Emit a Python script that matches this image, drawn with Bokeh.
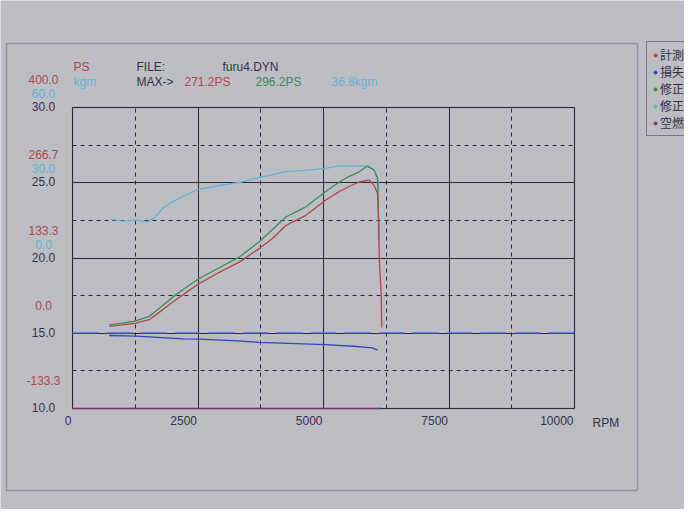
from bokeh.plotting import figure
from bokeh.models import (Range1d, FixedTicker, Grid, ColumnDataSource, LabelSet,
                          Label, Legend, LegendItem, BoxAnnotation)
from bokeh.core.properties import value
from bokeh.embed import file_html
from bokeh.resources import INLINE

# ---------------- data ----------------
rpm_ticks = [0, 2500, 5000, 7500, 10000]
rpm_minor = [1250, 3750, 6250, 8750]
afr_ticks = [10.0, 15.0, 20.0, 25.0, 30.0]
afr_minor = [12.5, 17.5, 22.5, 27.5]
ps_ticks = [400.0, 266.7, 133.3, 0.0, -133.3]
kgm_ticks = [60.0, 30.0, 0.0]

# measured power (PS)
meas_rpm = [730, 1000, 1262, 1528, 1727, 1992, 2260, 2524, 2922, 3321, 3719, 3984,
            4250, 4648, 5046, 5313, 5511, 5711, 5910, 6010, 6076, 6100, 6110, 6150, 6160]
meas_ps = [12, 15, 18, 24, 37, 55, 72, 88, 108, 126, 150, 168,
           191, 209, 236, 251, 260, 268, 271.2, 262, 248, 200, 132, 67, 10]

# corrected power (PS)
corr_rpm = [730, 1000, 1262, 1528, 1727, 1992, 2260, 2524, 2922, 3321, 3719, 4000,
            4250, 4648, 5046, 5313, 5511, 5711, 5876, 6010, 6076, 6090, 6100]
corr_ps = [15, 18, 22, 30, 44, 64, 81, 97, 116, 135, 162, 185,
           206, 224, 251, 268, 278, 286, 296.2, 289, 274, 230, 167]

# corrected torque (kgm)
torq_rpm = [764, 996, 1262, 1494, 1627, 1793, 1992, 2257, 2524, 2988, 3321, 3719,
            4250, 4648, 5046, 5313, 5600, 5711, 5910, 6010, 6076, 6096, 6100]
torq_kgm = [15.5, 14.7, 15.1, 14.4, 16.0, 19.7, 22.4, 25.1, 27.5, 29.1, 30.1, 32.0,
            34.4, 34.9, 35.7, 36.7, 36.8, 36.7, 36.4, 35.1, 32.4, 29.1, 26.4]

# loss power (PS)
loss_rpm = [730, 1262, 2200, 2524, 3190, 3719, 5046, 5600, 5976, 6076]
loss_ps = [-4, -5, -10, -10.5, -13, -16, -20, -23, -26, -30]

# reference line (PS)
ref_rpm = [0, 10000]
ref_ps = [0, 0]

# air/fuel ratio
afr_rpm = [0, 6160]
afr_val = [10.0, 10.0]

max_meas = "271.2PS"
max_corr = "296.2PS"
max_torq = "36.8kgm"
file_name = "furu4.DYN"
legend_names = ["計測", "損失", "修正", "修正", "空燃"]

# ---------------- style ----------------
BG = "#bcbec3"
INK = "#34304a"
GRIDC = "#2a2838"
RED = "#b04848"
GREEN = "#3c8a5a"
CYAN = "#62b4d2"
BLUE = "#3442c4"
PURPLE = "#8a3a78"
FONT = "Liberation Sans"

# canvas spans the whole sheet; scale: 502 px per 10000 rpm, 15.05 px per AFR unit
PXX = 10000 / 502.0
PXY = 301 / 20.0
x0 = -72 * PXX
x1 = 612 * PXX
y1 = 30 + 107 / PXY
y0 = 30 - 402 / PXY

p = figure(width=684, height=509, output_backend="svg", toolbar_location=None,
           x_range=Range1d(x0, x1), y_range=Range1d(y0, y1),
           x_axis_type=None, y_axis_type=None,
           min_border_left=0, min_border_right=0, min_border_top=0, min_border_bottom=0,
           background_fill_color=BG, border_fill_color=BG, outline_line_color=None)
p.extra_y_ranges = {
    "ps": Range1d(-133.333 + (y0 - 10) * 26.6667, 400 + (y1 - 30) * 26.6667),
    "kgm": Range1d(-60 + (y0 - 10) * 6.0, 60 + (y1 - 30) * 6.0),
}

has_cross = "cross_bounds" in Grid.properties()


def add_grid(dim, major, minor, bounds, cross):
    kw = dict(dimension=dim, ticker=FixedTicker(ticks=major, minor_ticks=minor),
              bounds=bounds, grid_line_color=GRIDC, grid_line_width=1,
              minor_grid_line_color=GRIDC, minor_grid_line_dash="4 4",
              minor_grid_line_width=1)
    if has_cross:
        kw["cross_bounds"] = cross
    p.add_layout(Grid(**kw))


if has_cross:
    add_grid(0, rpm_ticks, rpm_minor, (0, 10000), (10, 30))
    add_grid(1, afr_ticks, afr_minor, (10, 30), (0, 10000))
else:
    p.segment(x0=rpm_ticks, y0=[10] * 5, x1=rpm_ticks, y1=[30] * 5, color=GRIDC)
    p.segment(x0=[0] * 5, y0=afr_ticks, x1=[10000] * 5, y1=afr_ticks, color=GRIDC)
    p.segment(x0=rpm_minor, y0=[10] * 4, x1=rpm_minor, y1=[30] * 4, color=GRIDC,
              line_dash="4 4")
    p.segment(x0=[0] * 4, y0=afr_minor, x1=[10000] * 4, y1=afr_minor, color=GRIDC,
              line_dash="4 4")

# plot frame and sheet border
p.add_layout(BoxAnnotation(left=0, right=10000, bottom=10, top=30, fill_alpha=0,
                           line_color=INK, line_width=1.5))
p.add_layout(BoxAnnotation(left=(14 - 80) * PXX, right=(645 - 80) * PXX,
                           top=30 + 64 / PXY, bottom=30 - 383 / PXY, fill_alpha=0,
                           line_color=INK, line_width=1.5))


# tick labels
def ticklabels(vals, fmt, color, x_off, y_off, rng=None, align="center", xs=None, ys=None):
    src = ColumnDataSource(dict(x=xs if xs is not None else [0] * len(vals),
                                y=ys if ys is not None else vals,
                                t=[fmt % v for v in vals]))
    kw = dict(x="x", y="y", text="t", source=src, x_offset=x_off, y_offset=y_off,
              text_align=align, text_baseline="middle", text_font=value(FONT),
              text_font_size=value("12px"), text_color=color)
    if rng:
        kw["y_range_name"] = rng
    p.add_layout(LabelSet(**kw))


ticklabels(afr_ticks, "%.1f", INK, -29, 1)
ticklabels(ps_ticks, "%.1f", RED, -29, 28, rng="ps")
ticklabels(kgm_ticks, "%.1f", CYAN, -29, 14, rng="kgm")
ticklabels(rpm_ticks, "%d", INK, -1, -12, align="right", xs=rpm_ticks, ys=[10] * 5)

# curves
p.line(afr_rpm, afr_val, color=PURPLE, line_width=1.5)
p.line(ref_rpm, ref_ps, y_range_name="ps", color=BLUE, line_width=1.3, line_dash="26 8")
p.line(loss_rpm, loss_ps, y_range_name="ps", color=BLUE, line_width=1.3)
p.line(torq_rpm, torq_kgm, y_range_name="kgm", color=CYAN, line_width=1.3)
p.line(corr_rpm, corr_ps, y_range_name="ps", color=GREEN, line_width=1.3)
p.line(meas_rpm, meas_ps, y_range_name="ps", color=RED, line_width=1.3)


# header texts
def lab(px, py, t, c):
    p.add_layout(Label(x=(px - 80) * PXX, y=30 - (py - 115) / PXY, text=t, text_color=c,
                       text_font=FONT, text_font_size="12px", text_baseline="middle"))


lab(81, 74, "PS", RED)
lab(81, 89, "kgm", CYAN)
lab(144, 74, "FILE:", INK)
lab(230, 74, file_name, INK)
lab(144, 89, "MAX->", INK)
lab(192, 89, max_meas, RED)
lab(263, 89, max_corr, GREEN)
lab(339, 89, max_torq, CYAN)
lab(600, 430, "RPM", INK)

# legend with dots (marker renderers hold one point far outside the view)
items = []
for name, col in zip(legend_names, [RED, BLUE, GREEN, CYAN, PURPLE]):
    r = p.scatter(x=[-1e7], y=[-1e7], size=5, color=col)
    items.append(LegendItem(label=name, renderers=[r]))
legend = Legend(items=items, location=(646, 373), glyph_width=8, glyph_height=16,
                label_height=16, label_standoff=1, spacing=0, padding=4, margin=0,
                label_text_font="Noto Sans CJK JP", label_text_font_size="12px",
                label_text_color=INK, border_line_color=INK, border_line_width=1.5,
                background_fill_color=BG, background_fill_alpha=1)
p.add_layout(legend)

open("out.html", "w").write(file_html(p, INLINE))
